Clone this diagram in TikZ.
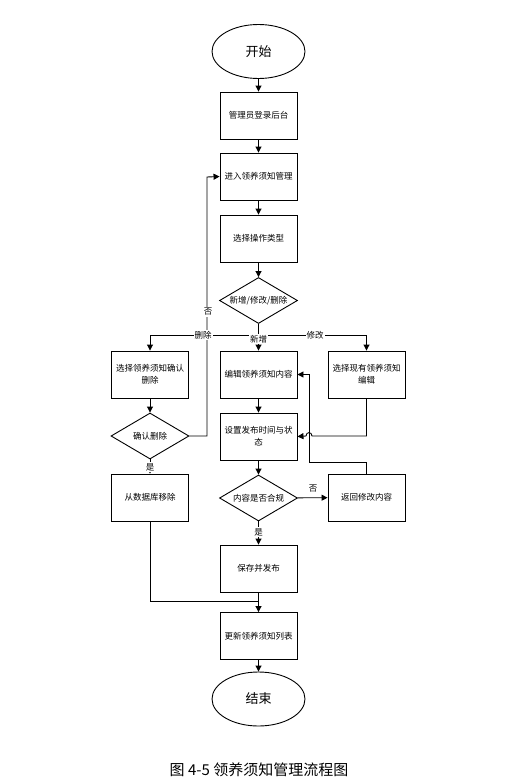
\documentclass[tikz,border=0pt]{standalone}
\usepackage{fontspec}
\newfontfamily\cjk{Noto Sans CJK SC}
\usetikzlibrary{shapes.geometric, arrows.meta}

\begin{document}
\begin{tikzpicture}[x = 1pt, y = -1pt, line width = 0.9pt, > = {Triangle[length = 6pt, width = 6pt]},
	box/.style = {draw, rectangle, minimum width = 77pt, minimum height = 47pt, inner sep = 1pt, align = center, font = \cjk\fontsize{8.5}{12}\selectfont},
	choice/.style = {draw, diamond, aspect = 1.7, minimum width = 78pt, minimum height = 46pt, inner sep = 0pt, font = \cjk\fontsize{8.5}{12}\selectfont},
	terminal/.style = {draw, ellipse, minimum width = 93pt, minimum height = 54pt, inner sep = 0pt, font = \cjk\fontsize{13}{15}\selectfont},
	tag/.style = {fill = white, inner sep = 1pt, font = \cjk\fontsize{8.5}{10}\selectfont},
	flow/.style = {->}]

	\useasboundingbox (0, 0) rectangle (516, 784);

	% Main column

	\node [terminal] (start) at (258.5, 51.5) {开始};
	\node [box] (login) at (258.5, 115.5) {管理员登录后台};
	\node [box] (manage) at (258.5, 176.5) {进入领养须知管理};
	\node [box] (optype) at (258.5, 238.5) {选择操作类型};
	\node [choice] (kind) at (258.5, 300.5) {新增/修改/删除};
	\node [box] (edit) at (258.5, 374.5) {编辑领养须知内容};
	\node [box] (setpub) at (258.5, 436.5) {设置发布时间与状\\态};
	\node [choice] (check) at (258.5, 498) {内容是否合规};
	\node [box] (save) at (258.5, 568.5) {保存并发布};
	\node [box] (update) at (258.5, 636) {更新领养须知列表};
	\node [terminal] (stop) at (258.5, 699) {结束};

	% Delete and modify branches

	\node [box] (delsel) at (150, 374.5) {选择领养须知确认\\删除};
	\node [choice] (delconf) at (150, 436) {确认删除};
	\node [box] (remove) at (150, 497.5) {从数据库移除};
	\node [box] (modsel) at (366.5, 374.5) {选择现有领养须知\\编辑};
	\node [box] (back) at (366.5, 497.5) {返回修改内容};

	\coordinate (split) at (258.5, 335);
	\coordinate (loopx) at (207, 177);
	\coordinate (hop) at (309, 436);
	\coordinate (backturn) at (309, 462);
	\coordinate (merge) at (258.5, 601);

	% Connectors

	\draw [flow] (start) -- (login);
	\draw [flow] (login) -- (manage);
	\draw [flow] (manage) -- (optype);
	\draw [flow] (optype) -- (kind);
	\draw [flow] (kind) -- (edit);
	\draw [flow] (split) -| (delsel);
	\draw [flow] (split) -| (modsel);
	\draw [flow] (edit) -- (setpub);
	\draw [flow] (setpub) -- (check);
	\draw [flow] (check) -- (save);
	\draw [flow] (save) -- (update);
	\draw [flow] (update) -- (stop);
	\draw [flow] (delsel) -- (delconf);
	\draw [flow] (delconf) -- (remove);
	\draw [flow] (delconf.east) -| (loopx) -- (manage.west);
	\draw [flow] (check) -- (back);
	\draw [flow] (modsel.south) |- ([xshift = 3pt] hop) .. controls +(0, -4.5) and +(0, -4.5) .. ([xshift = -3pt] hop) -- (setpub.east);
	\draw [flow] (back.north) |- (backturn) |- (edit.east);
	\draw (remove.south) |- (merge);

	% Labels

	\node [tag] (ldel) at (203, 335) {删除};
	\node [tag] (lnew) at (258.5, 339) {新增};
	\node [tag] (lmod) at (315, 335) {修改};
	\node [tag] (lno1) at (208, 312) {否};
	\node [tag] (lyes1) at (150, 467) {是};
	\node [tag] (lno2) at (313, 489) {否};
	\node [tag] (lyes2) at (258.5, 532) {是};

	\node [font = \cjk\fontsize{15}{18}\selectfont] (caption) at (259, 770) {图 4-5 领养须知管理流程图};

\end{tikzpicture}
\end{document}
